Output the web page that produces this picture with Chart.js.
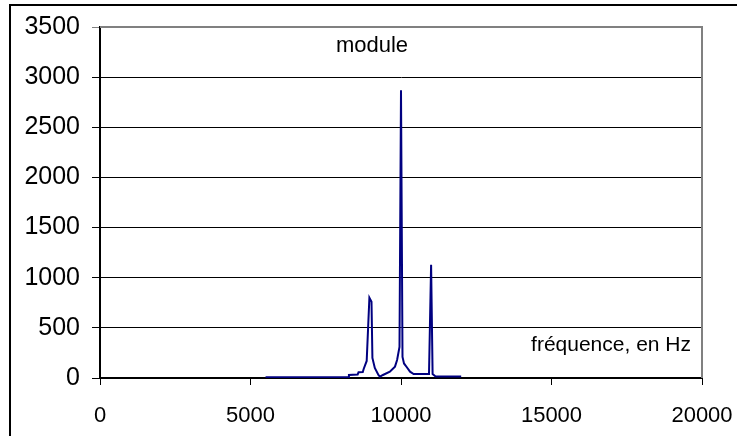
<!DOCTYPE html>
<html lang="fr">
<head>
<meta charset="utf-8">
<title>module</title>
<script src="https://cdn.jsdelivr.net/npm/chart.js@4/dist/chart.umd.min.js"></script>
<style>
  html, body { margin: 0; padding: 0; background: #fff; }
  #wrap { width: 737px; height: 436px; }
</style>
</head>
<body>
<div id="wrap"><canvas id="chart" width="737" height="436"></canvas></div>
<script>
// Fréquences (Hz)
const frequences = [
  5500, 6000, 6500, 7000, 7500, 8000, 8240, 8270, 8560, 8590, 8730, 8760,
  8860, 8950, 9020, 9050, 9130, 9250, 9300, 9400, 9630, 9800, 9870, 9950,
  10000, 10050, 10100, 10200, 10300, 10420, 10930, 11000, 11050, 11150,
  11500, 12000,
];

// Module correspondant
const modules = [
  8, 8, 8, 8, 8, 8, 8, 30, 35, 57, 60, 90,
  170, 800, 760, 200, 100, 30, 13, 30, 63, 113, 180, 310,
  2870, 210, 145, 105, 63, 40, 40, 1130, 40, 15,
  15, 15,
];

// Graduations des axes
const xTicks = [0, 5000, 10000, 15000, 20000];
const yTicks = [0, 500, 1000, 1500, 2000, 2500, 3000, 3500];

const points = frequences.map((f, i) => ({ x: f, y: modules[i] }));

const police = "'Liberation Sans', Arial, sans-serif";

// Cadre extérieur, bord gris de la zone de tracé et textes
const decor = {
  id: "decor",
  afterDraw(chart) {
    const c = chart.ctx;
    const a = chart.chartArea;
    c.save();
    // bord gris haut et droite
    c.strokeStyle = "#808080";
    c.lineWidth = 2;
    c.beginPath();
    c.moveTo(a.left, a.top);
    c.lineTo(a.right, a.top);
    c.lineTo(a.right, a.bottom);
    c.stroke();
    // cadre noir extérieur
    c.strokeStyle = "#000";
    c.lineWidth = 2;
    c.beginPath();
    c.moveTo(10, 440);
    c.lineTo(10, 5);
    c.lineTo(740, 5);
    c.stroke();
    // textes
    c.fillStyle = "#000";
    c.textBaseline = "middle";
    c.font = "22px " + police;
    c.textAlign = "center";
    c.fillText("module", 372, 46);
    c.font = "21px " + police;
    c.textAlign = "right";
    c.fillText("fréquence, en Hz", 691, 345);
    c.restore();
  },
};

const ctx = document.getElementById("chart").getContext("2d");
const chart = new Chart(ctx, {
  type: "scatter",
  data: {
    datasets: [
      {
        label: "module",
        data: points,
        showLine: true,
        borderColor: "#000080",
        backgroundColor: "#000080",
        borderWidth: 2,
        pointRadius: 0,
        tension: 0,
      },
    ],
  },
  options: {
    responsive: false,
    animation: false,
    layout: { padding: { top: 27, right: 35, left: 0, bottom: 0 } },
    plugins: {
      legend: { display: false },
      tooltip: { enabled: false },
    },
    scales: {
      x: {
        type: "linear",
        min: 0,
        max: 20000,
        afterBuildTicks: (s) => { s.ticks = xTicks.map((v) => ({ value: v })); },
        afterFit: (s) => {
          s.height = 58;
          s.paddingLeft = 0;
          s.paddingRight = 0;
        },
        grid: { drawOnChartArea: false, drawTicks: true, tickLength: 7, color: "#000", lineWidth: 1 },
        border: { color: "#000", width: 2 },
        ticks: {
          color: "#000",
          padding: 18,
          maxRotation: 0,
          callback: (v) => String(v),
          font: { family: police, size: 22 },
        },
      },
      y: {
        type: "linear",
        min: 0,
        max: 3500,
        afterBuildTicks: (s) => { s.ticks = yTicks.map((v) => ({ value: v })); },
        afterFit: (s) => {
          s.width = 100;
          s.paddingTop = 0;
          s.paddingBottom = 0;
        },
        grid: {
          color: (g) => (g.tick && g.tick.value === 3500 ? "#808080" : "#000"),
          lineWidth: 1,
          tickLength: 8,
        },
        border: { color: "#000", width: 2 },
        ticks: {
          color: "#000",
          padding: 12,
          callback: (v) => String(v),
          font: { family: police, size: 25 },
        },
      },
    },
  },
  plugins: [decor],
});
</script>
</body>
</html>
